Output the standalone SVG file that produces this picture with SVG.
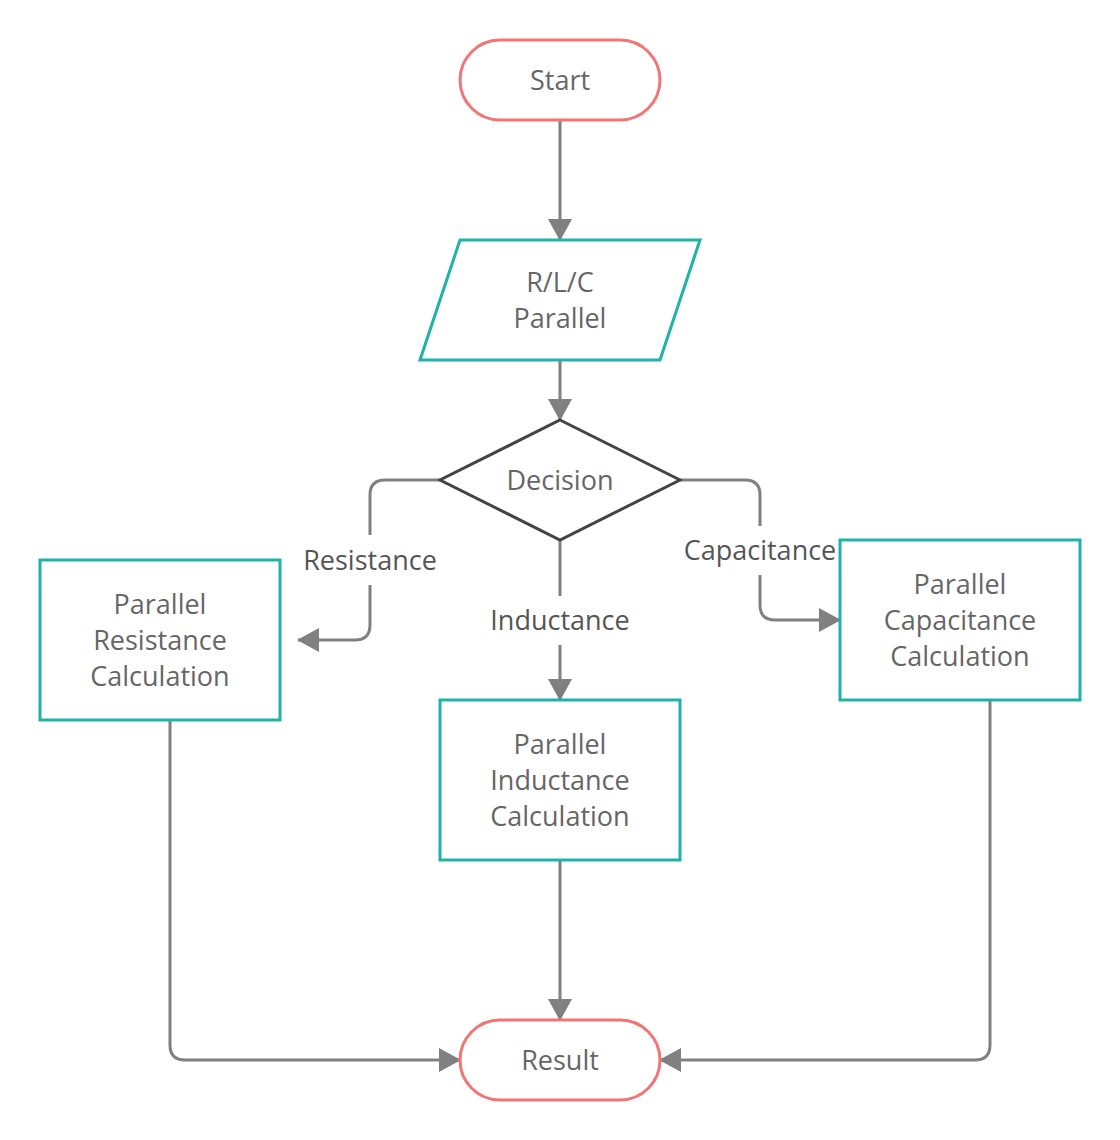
<svg xmlns="http://www.w3.org/2000/svg" width="1120" height="1140" viewBox="0 0 1120 1140">
<style>
.term{fill:#fff;stroke:#F27474;stroke-width:3}
.proc{fill:#fff;stroke:#20B2AA;stroke-width:3}
.dec{fill:#fff;stroke:#444;stroke-width:3}
.t{font-family:"Open Sans","Noto Sans",sans-serif;font-size:27px;fill:#666;text-anchor:middle;dominant-baseline:central}
.lbl{font-family:"Open Sans","Noto Sans",sans-serif;font-size:27px;fill:#555;text-anchor:middle;dominant-baseline:central}
.c{fill:none;stroke:#808080;stroke-width:3}
</style>
<defs>
<marker id="ah" viewBox="0 0 22 24" refX="21" refY="12" markerWidth="22" markerHeight="24" markerUnits="userSpaceOnUse" orient="auto">
<path d="M0,0 L22,12 L0,24 Z" fill="#808080"/>
</marker>
</defs>
<g id="connectors">
<path class="c" d="M560,120 V240" marker-end="url(#ah)"/>
<path class="c" d="M560,360 V420" marker-end="url(#ah)"/>
<path class="c" d="M440,480 H385 Q370,480 370,495 V535"/>
<path class="c" d="M370,585 V625 Q370,640 355,640 H298" marker-end="url(#ah)"/>
<path class="c" d="M560,540 V596"/>
<path class="c" d="M560,645 V700" marker-end="url(#ah)"/>
<path class="c" d="M680,480 H745 Q760,480 760,495 V526"/>
<path class="c" d="M760,575 V605 Q760,620 775,620 H840" marker-end="url(#ah)"/>
<path class="c" d="M170,720 V1045 Q170,1060 185,1060 H460" marker-end="url(#ah)"/>
<path class="c" d="M560,860 V1020" marker-end="url(#ah)"/>
<path class="c" d="M990,700 V1045 Q990,1060 975,1060 H660" marker-end="url(#ah)"/>
<text class="lbl" x="370" y="559">Resistance</text>
<text class="lbl" x="560" y="619">Inductance</text>
<text class="lbl" x="760" y="549">Capacitance</text>
</g>
<g id="start">
<rect class="term" x="460" y="40" width="200" height="80" rx="40"/>
<text class="t" x="560" y="79">Start</text>
</g>
<g id="input">
<polygon class="proc" points="460,240 700,240 660,360 420,360"/>
<text class="t" x="560" y="281">R/L/C</text>
<text class="t" x="560" y="317">Parallel</text>
</g>
<g id="decision">
<polygon class="dec" points="560,420 680,480 560,540 440,480"/>
<text class="t" x="560" y="479">Decision</text>
</g>
<g id="resistance">
<rect class="proc" x="40" y="560" width="240" height="160"/>
<text class="t" x="160" y="603">Parallel</text>
<text class="t" x="160" y="639">Resistance</text>
<text class="t" x="160" y="675">Calculation</text>
</g>
<g id="inductance">
<rect class="proc" x="440" y="700" width="240" height="160"/>
<text class="t" x="560" y="743">Parallel</text>
<text class="t" x="560" y="779">Inductance</text>
<text class="t" x="560" y="815">Calculation</text>
</g>
<g id="capacitance">
<rect class="proc" x="840" y="540" width="240" height="160"/>
<text class="t" x="960" y="583">Parallel</text>
<text class="t" x="960" y="619">Capacitance</text>
<text class="t" x="960" y="655">Calculation</text>
</g>
<g id="result">
<rect class="term" x="460" y="1020" width="200" height="80" rx="40"/>
<text class="t" x="560" y="1059">Result</text>
</g>
</svg>
